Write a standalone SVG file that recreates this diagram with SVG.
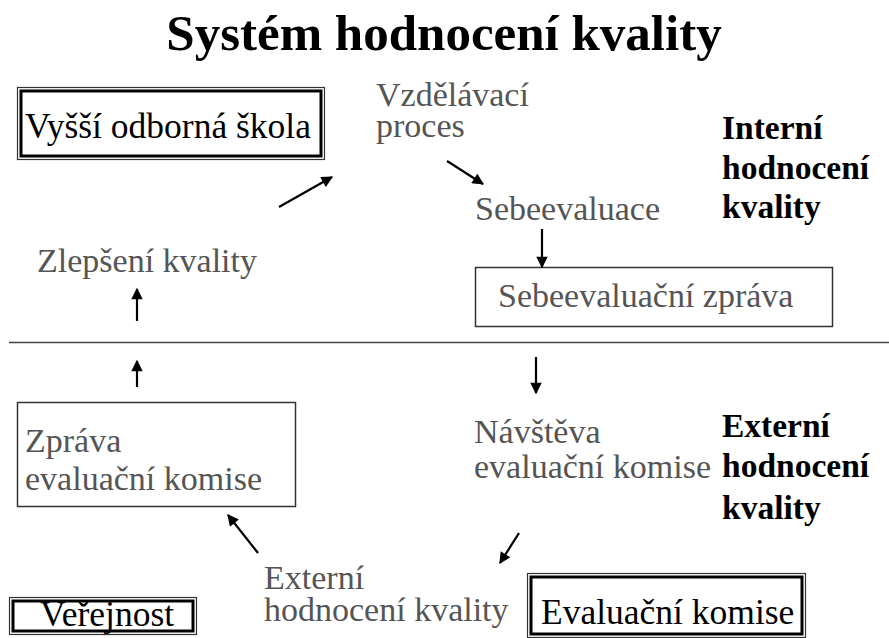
<svg xmlns="http://www.w3.org/2000/svg" width="889" height="638" viewBox="0 0 889 638">
<defs>
<style>
.t{font-size:35.5px;fill:#000}
.g{font-size:34px;fill:#555}
.b{font-size:33.5px;font-weight:bold;fill:#000}
.box{fill:#fff;stroke:#333;stroke-width:1.5}
.dbo{fill:#fff;stroke:#333;stroke-width:1.2}
.dbi{fill:none;stroke:#000;stroke-width:3}
.c{stroke:#000;stroke-width:2.2;fill:none;marker-end:url(#ah)}
</style>
<marker id="ah" viewBox="0 0 10 10" refX="9" refY="5" markerWidth="7.3" markerHeight="5.2" orient="auto" markerUnits="strokeWidth">
<path d="M0,0 L10,5 L0,10 z" fill="#000"/>
</marker>
</defs>
<rect width="889" height="638" fill="#fff"/>
<g font-family="Liberation Serif, Times New Roman, serif">
<text x="444" y="50" text-anchor="middle" font-size="51" font-weight="bold">Systém hodnocení kvality</text>

<g id="vos">
<rect class="dbo" x="17.5" y="87.5" width="307" height="72"/>
<rect class="dbi" x="21" y="91" width="300" height="65"/>
<text class="t" x="25" y="138">Vyšší odborná škola</text>
</g>
<g id="proces"><text class="g" x="376" y="106">Vzdělávací</text><text class="g" x="376" y="137">proces</text></g>
<g id="sebeevaluace"><text class="g" x="475" y="220">Sebeevaluace</text></g>
<g id="szprava">
<rect class="box" x="475.5" y="267.5" width="357" height="59"/>
<text class="g" x="498" y="307" font-size="35">Sebeevaluační zpráva</text>
</g>
<g id="interni"><text class="b" x="722" y="139">Interní</text><text class="b" x="722" y="179">hodnocení</text><text class="b" x="722" y="218">kvality</text></g>
<g id="zlepseni"><text class="g" x="37" y="272">Zlepšení kvality</text></g>
<g id="zprava">
<rect class="box" x="17.5" y="402.5" width="278" height="104"/>
<text class="g" x="25" y="452">Zpráva</text><text class="g" x="25" y="490">evaluační komise</text>
</g>
<g id="navsteva"><text class="g" x="474" y="443">Návštěva</text><text class="g" x="474" y="478">evaluační komise</text></g>
<g id="externi"><text class="b" x="722" y="437">Externí</text><text class="b" x="722" y="477">hodnocení</text><text class="b" x="722" y="519">kvality</text></g>
<g id="exthod"><text class="g" x="264" y="589">Externí</text><text class="g" x="264" y="621">hodnocení kvality</text></g>
<g id="verejnost">
<rect class="dbo" x="9.5" y="597.5" width="187" height="37"/>
<rect class="dbi" x="13" y="601" width="180" height="30"/>
<text class="t" x="40" y="626">Veřejnost</text>
</g>
<g id="komise">
<rect class="dbo" x="527.5" y="573.5" width="278" height="64"/>
<rect class="dbi" x="531" y="577" width="271" height="57"/>
<text class="t" x="541" y="624">Evaluační komise</text>
</g>
</g>
<g id="connectors">
<line x1="9" y1="342.5" x2="889" y2="342.5" stroke="#444" stroke-width="1.5"/>
<line class="c" x1="279" y1="207" x2="332" y2="177"/>
<line class="c" x1="447" y1="161" x2="483" y2="184"/>
<line class="c" x1="542" y1="229" x2="542" y2="267"/>
<line class="c" x1="137" y1="321" x2="137" y2="289"/>
<line class="c" x1="137" y1="387" x2="137" y2="361"/>
<line class="c" x1="536" y1="357" x2="536" y2="393"/>
<line class="c" x1="519" y1="533" x2="500" y2="563"/>
<line class="c" x1="258" y1="553" x2="228" y2="515"/>
</g>
</svg>
